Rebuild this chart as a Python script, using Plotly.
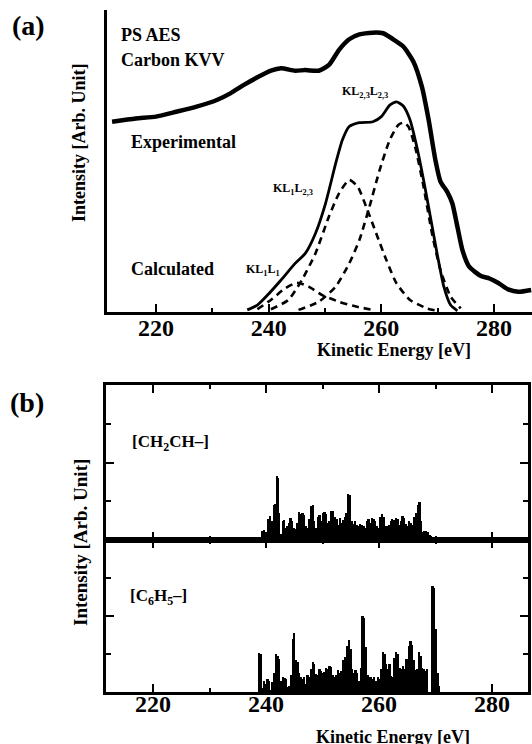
import plotly.graph_objects as go

# ---------------- Panel (a) data ----------------
exp_e = [212.2, 216.4, 220.0, 223.6, 227.2, 230.8, 233.2, 235.6, 238.0, 240.4, 242.2, 244.7,
         246.5, 248.9, 250.7, 252.5, 254.3, 256.1, 258.5, 260.3, 262.1, 263.9, 265.7, 267.2,
         268.4, 269.6, 270.5, 271.7, 272.6, 273.5, 274.4, 275.6, 277.7, 279.2, 280.7, 282.5,
         284.3, 286.6]
exp_i = [63.0, 64.1, 64.7, 66.3, 68.0, 70.2, 72.4, 75.2, 77.7, 79.9, 80.7, 79.9,
         80.1, 79.9, 81.8, 86.8, 90.3, 91.9, 92.5, 92.3, 90.3, 87.9, 82.9, 74.6,
         63.6, 50.3, 43.2, 39.8, 36.0, 28.3, 20.5, 15.0, 11.9, 11.1, 9.7, 7.5,
         6.7, 7.3]

calc_e = [236.2, 238.0, 239.8, 242.2, 244.7, 246.5, 248.3, 250.1, 251.9, 253.1, 254.3, 256.1,
          258.5, 260.0, 261.5, 262.7, 263.9, 265.1, 266.3, 267.5, 268.7, 269.9, 271.1, 272.3,
          273.5]
calc_i = [0.7, 2.3, 5.6, 10.6, 16.1, 19.4, 26.0, 36.0, 49.2, 57.0, 61.4, 62.7,
          63.0, 64.7, 68.5, 69.6, 68.2, 63.6, 54.7, 43.7, 31.6, 19.4, 8.4, 2.3,
          0.4]

kl23_e = [245.3, 248.9, 251.9, 254.3, 256.1, 257.9, 259.7, 261.5, 263.0, 263.9, 264.8, 266.0,
          267.5, 269.0, 270.5, 272.3, 274.1]
kl23_i = [0.7, 3.4, 8.4, 16.1, 23.8, 34.9, 47.0, 57.0, 61.9, 62.7, 61.4, 54.7,
          41.5, 26.0, 13.9, 5.1, 1.2]

kl1l23_e = [240.4, 243.5, 245.9, 248.3, 250.7, 252.5, 254.3, 255.8, 257.3, 259.1, 260.9, 262.7,
            265.1, 268.1, 269.9]
kl1l23_i = [0.9, 4.0, 10.6, 19.4, 31.6, 39.3, 43.7, 41.5, 34.9, 26.0, 17.2, 9.5,
            4.0, 1.2, 0.4]

kl1l1_e = [238.0, 240.4, 242.9, 245.0, 247.1, 249.5, 252.5, 255.5, 258.5]
kl1l1_i = [0.9, 4.0, 7.8, 9.7, 8.4, 5.6, 3.4, 1.8, 0.7]

# ---------------- Panel (b) data ----------------
ch_e = [239.4, 239.7, 240.0, 240.5, 240.8, 241.1, 241.5, 241.7, 242.0, 242.2, 242.4, 242.7,
        243.0, 243.2, 243.5, 243.8, 244.1, 244.4, 244.7, 245.0, 245.3, 245.6, 245.9, 246.2,
        246.5, 246.8, 247.1, 247.4, 247.7, 248.0, 248.3, 248.6, 248.9, 249.2, 249.5, 249.8,
        250.1, 250.4, 250.7, 251.0, 251.3, 251.6, 251.9, 252.2, 252.5, 252.8, 253.1, 253.4,
        253.7, 254.0, 254.3, 254.6, 254.9, 255.2, 255.5, 255.8, 256.1, 256.4, 256.7, 257.0,
        257.3, 257.6, 257.9, 258.2, 258.5, 258.8, 259.1, 259.4, 259.7, 260.0, 260.3, 260.6,
        260.9, 261.2, 261.5, 261.8, 262.1, 262.4, 262.7, 263.0, 263.3, 263.6, 263.9, 264.2,
        264.5, 264.8, 265.1, 265.4, 265.7, 266.0, 266.3, 266.6, 266.9, 267.2, 267.5, 267.8,
        268.1, 268.4, 268.7, 269.0, 269.3, 269.7, 270.2, 271.0]
ch_i = [0.22, 0.25, 0.20, 0.55, 0.61, 0.50, 0.90, 0.93, 1.64, 1.60, 0.70, 0.15,
        0.50, 0.52, 0.30, 0.35, 0.45, 0.58, 0.50, 0.30, 0.28, 0.45, 0.71, 0.68,
        0.70, 0.65, 0.35, 0.30, 0.55, 0.88, 0.90, 0.50, 0.30, 0.60, 0.65, 0.50,
        0.70, 0.71, 0.68, 0.45, 0.48, 0.75, 0.76, 0.60, 0.55, 0.40, 0.57, 0.45,
        0.52, 0.60, 0.70, 1.19, 1.15, 0.48, 0.42, 0.48, 0.39, 0.35, 0.42, 0.40,
        0.35, 0.30, 0.50, 0.55, 0.45, 0.57, 0.55, 0.50, 0.37, 0.30, 0.60, 0.67,
        0.60, 0.37, 0.35, 0.40, 0.50, 0.55, 0.52, 0.58, 0.55, 0.40, 0.50, 0.61,
        0.58, 0.41, 0.35, 0.48, 0.45, 0.40, 0.60, 0.70, 0.90, 0.97, 0.50, 0.20,
        0.22, 0.23, 0.20, 0.13, 0.10, 0.06, 0.05, 0.03]

ph_e = [238.8, 239.1, 239.4, 239.7, 240.0, 240.3, 240.6, 240.9, 241.2, 241.5, 241.8, 242.1,
        242.4, 242.7, 243.0, 243.3, 243.6, 243.9, 244.2, 244.5, 244.8, 245.0, 245.3, 245.6,
        245.9, 246.2, 246.5, 246.8, 247.1, 247.4, 247.7, 248.0, 248.3, 248.6, 248.9, 249.2,
        249.5, 249.8, 250.1, 250.4, 250.7, 251.0, 251.3, 251.6, 251.9, 252.2, 252.5, 252.8,
        253.1, 253.4, 253.7, 254.0, 254.4, 254.7, 255.0, 255.3, 255.6, 255.9, 256.2, 256.5,
        256.8, 257.1, 257.4, 257.7, 258.0, 258.3, 258.6, 258.9, 259.2, 259.5, 259.8, 260.1,
        260.4, 260.7, 261.0, 261.3, 261.6, 261.9, 262.2, 262.5, 262.8, 263.1, 263.4, 263.7,
        264.0, 264.3, 264.6, 264.9, 265.3, 265.6, 265.9, 266.2, 266.5, 266.8, 267.1, 267.4,
        267.7, 268.0, 268.3, 268.6, 269.5, 269.8, 270.1, 270.4, 270.7]
ph_i = [1.03, 1.00, 0.10, 0.30, 0.15, 0.33, 0.30, 0.05, 0.26, 0.50, 1.00, 0.95,
        0.88, 0.30, 0.39, 0.38, 0.35, 0.13, 0.15, 0.44, 1.40, 1.55, 0.83, 0.80,
        0.50, 0.39, 0.35, 0.39, 0.20, 0.44, 0.40, 0.60, 0.79, 0.75, 0.48, 0.45,
        0.60, 0.55, 0.50, 0.53, 0.63, 0.60, 0.68, 0.65, 0.44, 0.40, 0.44, 0.57,
        0.50, 0.55, 0.85, 0.92, 1.20, 1.36, 1.14, 0.61, 0.50, 0.57, 0.50, 0.30,
        0.63, 1.99, 1.95, 1.18, 0.44, 0.40, 0.39, 0.35, 0.39, 0.30, 0.39, 0.35,
        0.61, 1.05, 1.00, 0.75, 0.61, 0.75, 0.42, 0.40, 0.90, 1.05, 1.00, 0.63,
        0.60, 0.68, 0.61, 0.86, 1.20, 1.33, 1.25, 0.83, 0.57, 0.60, 1.05, 0.95,
        0.63, 0.60, 0.55, 0.60, 2.79, 2.75, 1.67, 0.50, 0.17]

# ---------------- figure ----------------
W, H = 532, 744
FONT = "Liberation Serif"


def px(x):
    return x / W


def py(y):
    return 1 - y / H


fig = go.Figure()

fig.add_trace(go.Scatter(x=exp_e, y=exp_i, mode="lines", xaxis="x", yaxis="y",
                         line=dict(color="black", width=4.5, shape="spline", smoothing=0.6)))
fig.add_trace(go.Scatter(x=calc_e, y=calc_i, mode="lines", xaxis="x", yaxis="y",
                         line=dict(color="black", width=2.8, shape="spline", smoothing=0.6)))
for xe, yi in [(kl23_e, kl23_i), (kl1l23_e, kl1l23_i), (kl1l1_e, kl1l1_i)]:
    fig.add_trace(go.Scatter(x=xe, y=yi, mode="lines", xaxis="x", yaxis="y",
                             line=dict(color="black", width=2.6, dash="7px,5px",
                                       shape="spline", smoothing=0.6)))

fig.add_trace(go.Bar(x=ch_e, y=ch_i, xaxis="x2", yaxis="y2", width=0.31,
                     marker=dict(color="black", line=dict(width=0))))
fig.add_trace(go.Bar(x=ph_e, y=ph_i, xaxis="x3", yaxis="y3", width=0.31,
                     marker=dict(color="black", line=dict(width=0))))

tickfont = dict(family=FONT, size=24, color="black", weight="bold")


def xa(standoff):
    return dict(showgrid=False, zeroline=False, showline=True, linecolor="black",
                linewidth=3, ticks="inside", tickcolor="black", tickwidth=2, ticklen=8,
                tick0=0, dtick=20, tickfont=tickfont, ticklabelstandoff=standoff,
                minor=dict(dtick=10, ticks="inside", ticklen=4, tickwidth=2,
                           tickcolor="black"))


ya_b = dict(showgrid=False, zeroline=False, showline=True, linecolor="black", linewidth=3,
            mirror="ticks", ticks="inside", ticklen=8, tickwidth=2, tickcolor="black",
            tick0=0, dtick=2, showticklabels=False, range=[0, 4],
            minor=dict(dtick=1, ticks="inside", ticklen=5, tickwidth=2, tickcolor="black"))

fig.update_layout(
    width=W, height=H, margin=dict(l=0, r=0, t=0, b=0),
    paper_bgcolor="white", plot_bgcolor="white", showlegend=False,
    font=dict(family=FONT, color="black"),
    xaxis=dict(domain=[px(107), 1.0], range=[211.3, 286.75], anchor="y", **xa(-8)),
    yaxis=dict(domain=[py(312), py(10)], range=[0, 100], showgrid=False, zeroline=False,
               showline=True, linecolor="black", linewidth=3, ticks="",
               showticklabels=False, anchor="x"),
    xaxis2=dict(domain=[px(106), px(528)], range=[211.68, 286.37], anchor="y2",
                mirror="ticks", showticklabels=False, **xa(0)),
    yaxis2=dict(domain=[py(540), py(385)], anchor="x2", **ya_b),
    xaxis3=dict(domain=[px(106), px(528)], range=[211.68, 286.37], anchor="y3",
                mirror="ticks", showticklabels=True, **xa(-12)),
    yaxis3=dict(domain=[py(692), py(540)], anchor="x3", **ya_b),
    bargap=0,
)


def note(text, x, y, size, angle=0, xanchor="center"):
    fig.add_annotation(text=text, x=px(x), y=py(y), xref="paper", yref="paper",
                       showarrow=False, xanchor=xanchor, yanchor="middle", textangle=angle,
                       font=dict(family=FONT, size=size, color="black"))


note("<b>(a)</b>", 28, 26, 28)
note("<b>(b)</b>", 27, 402, 28)
note("<b>PS AES</b>", 119, 35, 18, xanchor="left")
note("<b>Carbon KVV</b>", 119, 60, 18, xanchor="left")
note("<b>Experimental</b>", 183, 142, 18)
note("<b>Calculated</b>", 172, 269, 18)
note("<b>KL<sub>1</sub>L<sub>1</sub></b>", 263, 270, 12)
note("<b>KL<sub>1</sub>L<sub>2,3</sub></b>", 293, 189, 12)
note("<b>KL<sub>2,3</sub>L<sub>2,3</sub></b>", 365, 92, 12)
note("<b>Intensity [Arb. Unit]</b>", 79, 143, 18, angle=-90)
note("<b>Kinetic Energy [eV]</b>", 394, 350, 18)
note("<b>[CH<sub>2</sub>CH–]</b>", 170, 443, 17)
note("<b>[C<sub>6</sub>H<sub>5</sub>–]</b>", 158, 597, 17)
note("<b>Intensity [Arb. Unit]</b>", 80, 543, 19, angle=-90)
note("<b>Kinetic Energy [eV]</b>", 393, 737, 18)

fig.write_html("out.html", config={"displayModeBar": False},
               post_script="document.body.style.margin='0px';")
